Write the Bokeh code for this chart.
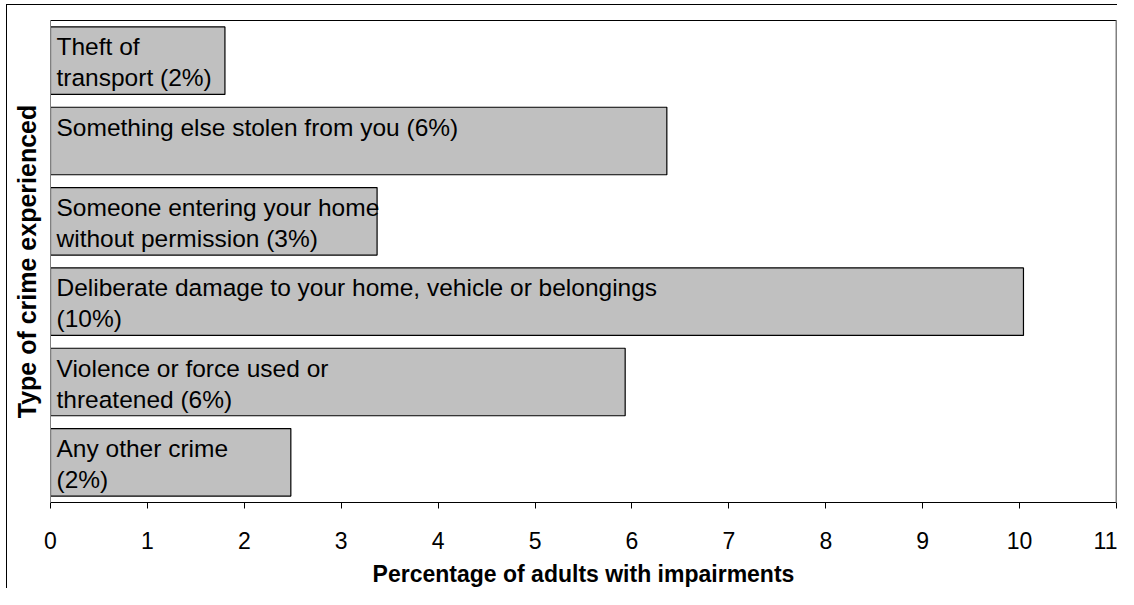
from bokeh.plotting import figure
from bokeh.models import Range1d, LinearAxis, FixedTicker, ColumnDataSource
from bokeh.embed import file_html
from bokeh.resources import INLINE
from bokeh.core.properties import value

# ---- data ----
crime_types = [
    "Theft of transport",
    "Something else stolen from you",
    "Someone entering your home without permission",
    "Deliberate damage to your home, vehicle or belongings",
    "Violence or force used or threatened",
    "Any other crime",
]
percentages = [1.80, 6.36, 3.37, 10.04, 5.93, 2.48]
bar_labels = [
    "Theft of\ntransport (2%)",
    "Something else stolen from you (6%)",
    "Someone entering your home\nwithout permission (3%)",
    "Deliberate damage to your home, vehicle or belongings\n(10%)",
    "Violence or force used or\nthreatened (6%)",
    "Any other crime\n(2%)",
]
x_ticks = [0, 1, 2, 3, 4, 5, 6, 7, 8, 9, 10, 11]
x_title = "Percentage of adults with impairments"
y_title = "Type of crime experienced"

FONT = "Liberation Sans"

n = len(crime_types)
ypos = [n - 1 - i for i in range(n)]
line1 = [s.split("\n")[0] for s in bar_labels]
line2 = [s.split("\n")[1] if "\n" in s else "" for s in bar_labels]
src = ColumnDataSource(dict(y=ypos, v=percentages, x0=[0] * n, l1=line1, l2=line2, name=crime_types))

p = figure(width=1111, height=584,
           x_range=Range1d(0, 11), y_range=Range1d(-0.5, n - 0.5),
           output_backend="svg", toolbar_location=None,
           min_border_left=43, min_border_top=15, min_border_right=2, min_border_bottom=86)
p.styles = {"margin-left": "6px", "margin-top": "4px",
            "border-left": "1px solid black", "border-top": "1px solid black"}
p.grid.visible = False
p.outline_line_color = None
p.background_fill_color = "white"
p.border_fill_color = "white"

p.hbar(y="y", left="x0", right="v", height=0.84, source=src,
       fill_color="#c0c0c0", line_color="black", line_width=1.2)
common = dict(source=src, x="x0", y="y", x_offset=6, text_baseline="alphabetic",
              text_align="left", text_font=value(FONT), text_font_size="24.5px",
              text_color="black")
p.text(text="l1", y_offset=-14, **common)
p.text(text="l2", y_offset=17, **common)

# x axis
xa = p.xaxis[0]
xa.ticker = FixedTicker(ticks=x_ticks)
xa.minor_tick_line_color = None
xa.major_tick_in = 0
xa.major_tick_out = 6
xa.major_tick_line_color = "black"
xa.axis_line_color = "black"
xa.major_label_standoff = 23
xa.major_label_text_font = FONT
xa.major_label_text_font_size = "23px"
xa.major_label_text_color = "black"
xa.axis_label = x_title
xa.axis_label_text_font = FONT
xa.axis_label_text_font_size = "23px"
xa.axis_label_text_font_style = "bold"
xa.axis_label_text_color = "black"
xa.axis_label_standoff = 9

# y axis
ya = p.yaxis[0]
ya.ticker = FixedTicker(ticks=[])
ya.minor_tick_line_color = None
ya.major_tick_in = 0
ya.major_tick_out = 0
ya.major_label_text_font_size = "0px"
ya.axis_line_color = "#808080"
ya.axis_label = y_title
ya.axis_label_text_font = FONT
ya.axis_label_text_font_size = "25px"
ya.axis_label_text_font_style = "bold"
ya.axis_label_text_color = "black"
ya.axis_label_standoff = 10

# top and right frame lines
top = LinearAxis(ticker=FixedTicker(ticks=[]), major_tick_in=0, major_tick_out=0,
                 minor_tick_in=0, minor_tick_out=0, major_label_text_font_size="0px",
                 axis_line_color="black", axis_line_width=1)
p.add_layout(top, "above")
right = LinearAxis(ticker=FixedTicker(ticks=[]), major_tick_in=0, major_tick_out=0,
                   minor_tick_in=0, minor_tick_out=0, major_label_text_font_size="0px",
                   axis_line_color="#808080", axis_line_width=2)
p.add_layout(right, "right")

open("out.html", "w").write(file_html(p, INLINE))
